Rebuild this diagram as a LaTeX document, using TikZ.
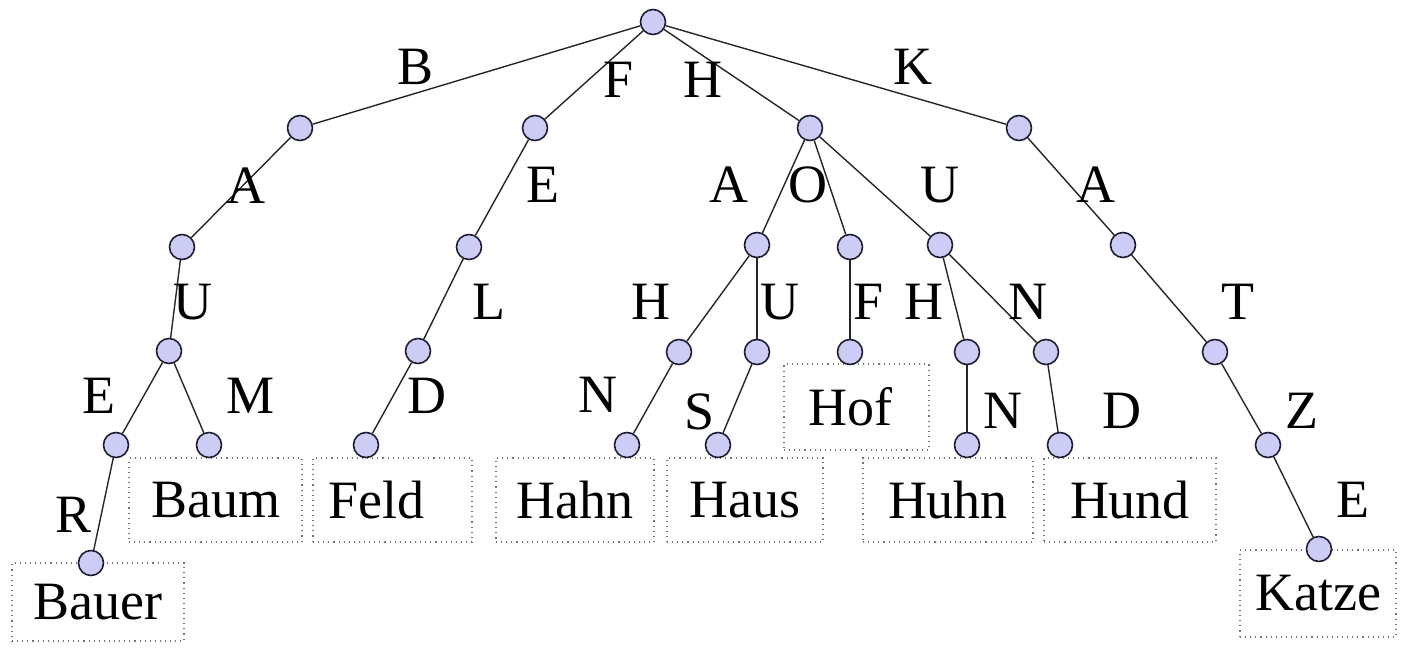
\documentclass[tikz,border=0pt]{standalone}
\usepackage{fontspec}
\setmainfont{Liberation Serif}
\definecolor{knotfill}{RGB}{204,204,244}
\definecolor{knotline}{RGB}{30,30,50}
\tikzset{
  knot/.style={circle, draw=knotline, fill=knotfill, line width=0.8pt,
               minimum size=12.5pt, inner sep=0pt},
  edgeline/.style={draw=black!85, line width=0.7pt},
  letter/.style={inner sep=0pt, font=\fontsize{27}{30}\selectfont},
  wordbox/.style={rectangle, draw=black!55, dotted, line width=0.55pt,
                  inner sep=0pt, font=\fontsize{27}{30}\selectfont,
                  minimum height=42pt}
}
\begin{document}
\begin{tikzpicture}[x=0.5pt,y=-0.5pt]
\useasboundingbox (0,0) rectangle (1404,648);

% word boxes
\node[wordbox, minimum width=86pt, minimum height=39pt] (wBauer) at (98,602) {\raisebox{-2pt}{Bauer}};
\node[wordbox, minimum width=86.5pt] (wBaum)  at (215.5,500) {Baum};
\node[wordbox, minimum width=79.5pt] (wFeld)  at (392.5,500) {Feld\kern16pt};
\node[wordbox, minimum width=79pt]   (wHahn)  at (575,500) {Hahn};
\node[wordbox, minimum width=78pt]   (wHaus)  at (745,500) {Haus};
\node[wordbox, minimum width=72.5pt, minimum height=43pt] (wHof) at (856.5,407) {Hof\kern6pt};
\node[wordbox, minimum width=85pt]   (wHuhn)  at (948,500) {Huhn};
\node[wordbox, minimum width=86pt]   (wHund)  at (1130,500) {Hund};
\node[wordbox, minimum width=78pt, minimum height=43.5pt] (wKatze) at (1318,593.5) {Katze};

% trie nodes
\node[knot] (root) at (653,22) {};
\node[knot] (b1) at (300,128) {};
\node[knot] (f1) at (535,128) {};
\node[knot] (h1) at (810,128) {};
\node[knot] (k1) at (1019,128) {};
\node[knot] (b2) at (182,247) {};
\node[knot] (f2) at (469,247) {};
\node[knot] (ha) at (757,245) {};
\node[knot] (ho) at (850,247) {};
\node[knot] (hu) at (940,245) {};
\node[knot] (k2) at (1123,245) {};
\node[knot] (b3) at (169,351) {};
\node[knot] (f3) at (418,351) {};
\node[knot] (hah) at (679,352) {};
\node[knot] (hau) at (757,352) {};
\node[knot] (hof) at (850,352) {};
\node[knot] (huh) at (967,352) {};
\node[knot] (hun) at (1046,352) {};
\node[knot] (k3) at (1215,352) {};
\node[knot] (be) at (116,445) {};
\node[knot] (bm) at (209,445) {};
\node[knot] (feld) at (366,445) {};
\node[knot] (hahn) at (627,445) {};
\node[knot] (haus) at (718,445) {};
\node[knot] (huhn) at (967,445) {};
\node[knot] (hund) at (1060,445) {};
\node[knot] (k4) at (1268,445) {};
\node[knot] (bauer) at (91,563) {};
\node[knot] (katze) at (1319,549) {};

% edges
\draw[edgeline] (root) -- (b1);
\draw[edgeline] (root) -- (f1);
\draw[edgeline] (root) -- (h1);
\draw[edgeline] (root) -- (k1);
\draw[edgeline] (b1) -- (b2);
\draw[edgeline] (b2) -- (b3);
\draw[edgeline] (b3) -- (be);
\draw[edgeline] (b3) -- (bm);
\draw[edgeline] (be) -- (bauer);
\draw[edgeline] (f1) -- (f2);
\draw[edgeline] (f2) -- (f3);
\draw[edgeline] (f3) -- (feld);
\draw[edgeline] (h1) -- (ha);
\draw[edgeline] (h1) -- (ho);
\draw[edgeline] (h1) -- (hu);
\draw[edgeline] (ha) -- (hah);
\draw[edgeline] (ha) -- (hau);
\draw[edgeline] (hah) -- (hahn);
\draw[edgeline] (hau) -- (haus);
\draw[edgeline] (ho) -- (hof);
\draw[edgeline] (hu) -- (huh);
\draw[edgeline] (hu) -- (hun);
\draw[edgeline] (huh) -- (huhn);
\draw[edgeline] (hun) -- (hund);
\draw[edgeline] (k1) -- (k2);
\draw[edgeline] (k2) -- (k3);
\draw[edgeline] (k3) -- (k4);
\draw[edgeline] (k4) -- (katze);

% edge letters
\node[letter] (lB)  at (416,67)  {B};
\node[letter] (lF)  at (619,80)  {F};
\node[letter] (lH)  at (703,80)  {H};
\node[letter] (lK)  at (913,67)  {K};
\node[letter] (lBA) at (246,186) {A};
\node[letter] (lFE) at (543,185) {E};
\node[letter] (lHA) at (729,185) {A};
\node[letter] (lHO) at (808,185) {O};
\node[letter] (lHU) at (940,185) {U};
\node[letter] (lKA) at (1096,185) {A};
\node[letter] (lBU) at (193,302) {U};
\node[letter] (lFL) at (489,302) {L};
\node[letter] (lAH) at (651,302) {H};
\node[letter] (lAU) at (780,302) {U};
\node[letter] (lOF) at (869,302) {F};
\node[letter] (lUH) at (924,302) {H};
\node[letter] (lUN) at (1028,302) {N};
\node[letter] (lKT) at (1238,302) {T};
\node[letter] (lBE) at (99,396)  {E};
\node[letter] (lBM) at (251,396) {M};
\node[letter] (lFD) at (427,396) {D};
\node[letter] (lHN) at (598,395) {N};
\node[letter] (lAS) at (700,412) {S};
\node[letter] (lHN2) at (1003,411) {N};
\node[letter] (lND) at (1122,411) {D};
\node[letter] (lKZ) at (1302,411) {Z};
\node[letter] (lBR) at (74,515)  {R};
\node[letter] (lKE) at (1353,500) {E};
\end{tikzpicture}
\end{document}
